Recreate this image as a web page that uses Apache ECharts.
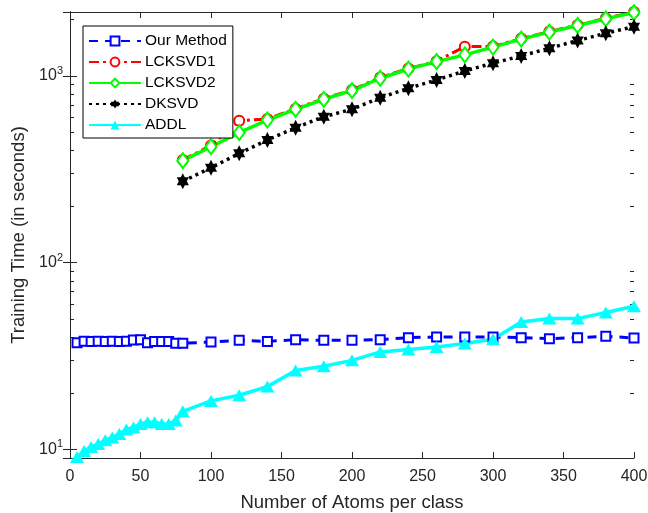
<!DOCTYPE html>
<html>
<head>
<meta charset="utf-8">
<script src="https://cdn.jsdelivr.net/npm/echarts@6/dist/echarts.min.js"></script>
<style>html,body{margin:0;padding:0;background:#fff;}#c{width:648px;height:513px;}</style>
</head>
<body>
<div id="c"></div>
<script>
// ---- data ----
const xOur = [5,10,15,20,25,30,35,40,45,50,55,60,65,70,75,80,100,120,140,160,180,200,220,240,260,280,300,320,340,360,380,400];
const yOur = [37.3,38.0,37.8,38.0,37.8,38.0,37.8,38.0,38.5,38.7,37.3,37.8,37.8,37.8,37.0,37.0,37.6,38.4,37.9,38.7,38.4,38.4,38.7,39.7,40.0,40.0,40.0,39.7,39.2,39.7,40.4,39.5];
const xADDL = [5,10,15,20,25,30,35,40,45,50,55,60,65,70,75,80,100,120,140,160,180,200,220,240,260,280,300,320,340,360,380,400];
const yADDL = [9.1,9.8,10.3,10.7,11.2,11.6,12.1,12.8,13.1,13.7,14.0,14.0,13.7,13.7,14.3,16.0,18.2,19.5,21.7,26.5,27.9,30.0,33.3,34.3,35.4,36.9,38.9,48.2,50.2,50.2,54.1,58.5];
const xK = [80,100,120,140,160,180,200,220,240,260,280,300,320,340,360,380,400];
const yLCKSVD1 = [355,424,576,588,668,756,842,982,1095,1200,1435,1440,1585,1728,1875,2035,2200];
const yLCKSVD2 = [352,418,497,581,663,750,835,972,1087,1193,1297,1427,1574,1717,1864,2023,2184];
const yDKSVD = [273,322,385,454,528,605,663,765,859,952,1064,1170,1280,1408,1547,1693,1837];
const seriesNames = ['Our Method','LCKSVD1','LCKSVD2','DKSVD','ADDL'];
const xTicks = [0,50,100,150,200,250,300,350,400];
const yMajor = [10,100,1000];
const yMinor = [20,30,40,50,60,70,80,90,200,300,400,500,600,700,800,900,2000];
const xTitle = 'Number of Atoms per class';
const yTitle = 'Training Time (in seconds)';

const zip = (xs, ys) => xs.map((x, i) => [x, ys[i]]);
const YMIN = 9, YMAX = 2200;
const axCol = '#262626';
const font = 'Liberation Sans, Arial, Helvetica, sans-serif';
const hexagram = 'path://M100,0L128.87,50L186.6,50L157.74,100L186.6,150L128.87,150L100,200L71.13,150L13.4,150L42.26,100L13.4,50L71.13,50Z';

const chart = echarts.init(document.getElementById('c'));

function isMajor(v) {
  return yMajor.some(m => Math.abs(m - v) / m < 1e-6);
}

// log axis carrying data + labels
function yLog(pos, labels) {
  return {
    type: 'log', min: YMIN, max: YMAX, position: pos,
    axisLine: {show: true, lineStyle: {color: axCol, width: 1}},
    axisTick: {show: true, inside: true, length: 7, lineStyle: {color: axCol, width: 1}},
    axisLabel: labels ? {
      show: true, color: axCol, fontFamily: font, fontSize: 16, margin: 7,
      showMinLabel: false, showMaxLabel: false,
      formatter: v => isMajor(v) ? '10{sup|' + Math.round(Math.log10(v)) + '}' : '',
      rich: {sup: {fontSize: 11, fontFamily: font, color: axCol, padding: [0, 0, 10, 0]}}
    } : {show: false},
    splitLine: {show: false},
    name: labels ? yTitle : '', nameLocation: 'middle', nameGap: 37,
    nameTextStyle: {fontFamily: font, fontSize: 18.5, color: axCol}
  };
}
// linear helper axis in log10 units, only for minor ticks
function yMinorAx(pos) {
  return {
    type: 'value', min: Math.log10(YMIN), max: Math.log10(YMAX), position: pos,
    axisLine: {show: false},
    axisTick: {show: true, inside: true, length: 4, customValues: yMinor.map(Math.log10), lineStyle: {color: axCol, width: 1}},
    axisLabel: {show: false}, splitLine: {show: false}
  };
}

const option = {
  backgroundColor: '#fff',
  animation: false,
  grid: {left: 70, right: 14, top: 12, bottom: 55, containLabel: false, outerBoundsMode: 'none'},
  legend: {
    orient: 'vertical', left: 83, top: 26,
    data: seriesNames,
    backgroundColor: '#fff', borderColor: '#000', borderWidth: 1,
    padding: [7, 6, 5, 5], itemGap: 5, itemWidth: 52, itemHeight: 11,
    textStyle: {fontFamily: font, fontSize: 15.5, color: '#000', padding: [0,0,0,-1]}
  },
  xAxis: [
    {
      type: 'value', min: 0, max: 400, interval: 50, position: 'bottom',
      axisLine: {show: true, onZero: false, lineStyle: {color: axCol}},
      axisTick: {show: true, inside: true, length: 6, lineStyle: {color: axCol}},
      axisLabel: {color: axCol, fontFamily: font, fontSize: 16, margin: 11},
      splitLine: {show: false},
      name: xTitle, nameLocation: 'middle', nameGap: 35,
      nameTextStyle: {fontFamily: font, fontSize: 18.5, color: axCol}
    },
    {
      type: 'value', min: 0, max: 400, interval: 50, position: 'top',
      axisLine: {show: true, onZero: false, lineStyle: {color: axCol}},
      axisTick: {show: true, inside: true, length: 6, lineStyle: {color: axCol}},
      axisLabel: {show: false}, splitLine: {show: false}
    }
  ],
  yAxis: [
    yLog('left', true),
    yLog('right', false),
    yMinorAx('left'),
    yMinorAx('right')
  ],
  series: [
    {
      name: seriesNames[0], type: 'line', data: zip(xOur, yOur),
      symbol: 'emptyRect', symbolSize: 9,
      lineStyle: {color: '#0000ff', width: 3, type: [9, 7]},
      itemStyle: {color: '#0000ff', borderWidth: 2.5}
    },
    {
      name: seriesNames[1], type: 'line', data: zip(xK, yLCKSVD1),
      symbol: 'emptyCircle', symbolSize: 10,
      lineStyle: {color: '#ff0000', width: 3, type: [10, 4, 3, 4]},
      itemStyle: {color: '#ff0000', borderWidth: 2.5}
    },
    {
      name: seriesNames[2], type: 'line', data: zip(xK, yLCKSVD2),
      symbol: 'emptyDiamond', symbolSize: [11, 15],
      lineStyle: {color: '#00ff00', width: 3.5},
      itemStyle: {color: '#00ff00', borderWidth: 2.5}
    },
    {
      name: seriesNames[3], type: 'line', data: zip(xK, yDKSVD),
      symbol: hexagram, symbolSize: [14, 16], symbolKeepAspect: true,
      lineStyle: {color: '#000', width: 3.5, type: [3, 4]},
      itemStyle: {color: '#000'}
    },
    {
      name: seriesNames[4], type: 'line', data: zip(xADDL, yADDL),
      symbol: 'triangle', symbolSize: [14, 12],
      lineStyle: {color: '#00ffff', width: 3.5},
      itemStyle: {color: '#00ffff'}
    }
  ]
};
chart.setOption(option);
</script>
</body>
</html>
